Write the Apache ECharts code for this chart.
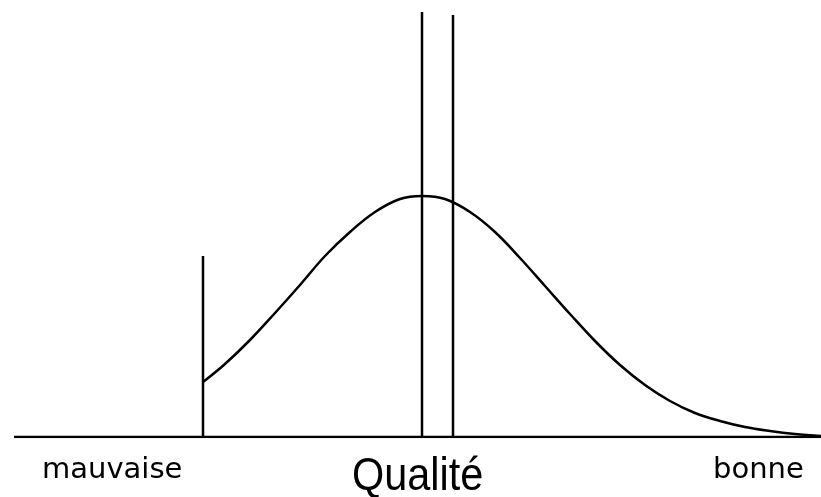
<!DOCTYPE html>
<html><head><meta charset="utf-8">
<script src="https://cdn.jsdelivr.net/npm/echarts@6/dist/echarts.min.js"></script>
<style>html,body{margin:0;padding:0;background:#fff}#c{width:821px;height:497px}</style>
</head><body><div id="c"></div>
<script>
// Curve (quality distribution): x position along quality axis, height above baseline
const curveX = [203, 225, 250, 275, 300, 325, 350, 375, 400, 422, 445, 470, 495, 520, 545, 570, 595, 620, 645, 670, 695, 720, 745, 770, 795, 821];
const curveY = [55, 73, 97, 124, 152, 181, 205, 225, 238, 241, 238, 225, 205, 179, 151, 123, 96, 72, 52, 36, 24, 16, 10, 6, 3, 1];
// Vertical marker lines: x position and height
const markerX = [203, 422, 453];
const markerH = [181, 425, 422];
// Baseline extent
const baseX = [14, 821];
// Labels
const labels = ["mauvaise", "Qualité", "bonne"];

const series = [];
series.push({type:'line', data: baseX.map(x=>[x,0]), symbol:'none', lineStyle:{color:'#000', width:2.5}, z:2});
series.push({type:'line', data: curveX.map((x,i)=>[x,curveY[i]]), symbol:'none', smooth:0.4, lineStyle:{color:'#000', width:2.5}, z:3});
markerX.forEach((x,i)=>{
  series.push({type:'line', data:[[x,0],[x,markerH[i]]], symbol:'none', lineStyle:{color:'#000', width:2.5}, z:4});
});

const chart = echarts.init(document.getElementById('c'), null, {renderer:'canvas'});
chart.setOption({
  animation:false,
  backgroundColor:'#fff',
  grid:{left:0, right:0, top:0, bottom:60},
  xAxis:{type:'value', min:0, max:821, show:false},
  yAxis:{type:'value', min:0, max:437, show:false},
  series: series,
  graphic:[
    {type:'text', x:42, y:456, style:{text:labels[0], font:'29px "DejaVu Sans", sans-serif', fill:'#000'}},
    {type:'text', x:352, y:454, scaleX:0.9, style:{text:labels[1], font:'46px "Liberation Sans", Arial, sans-serif', fill:'#000'}},
    {type:'text', x:713, y:456, style:{text:labels[2], font:'29px "DejaVu Sans", sans-serif', fill:'#000'}}
  ]
});
</script></body></html>
